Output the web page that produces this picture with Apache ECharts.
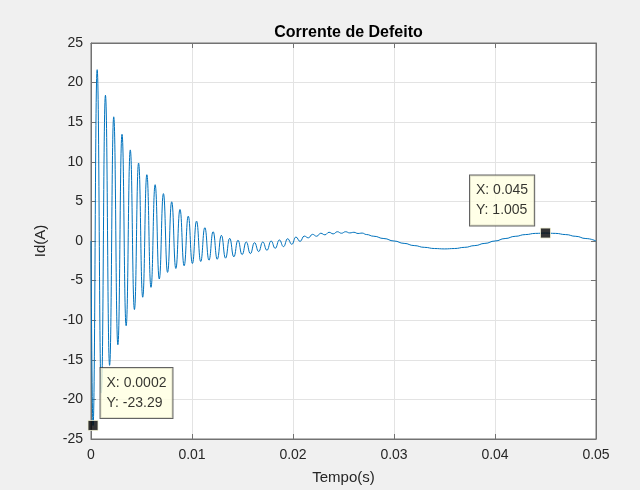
<!DOCTYPE html>
<html>
<head>
<meta charset="utf-8">
<script src="https://cdn.jsdelivr.net/npm/echarts@6/dist/echarts.min.js"></script>
<style>
  html, body { margin: 0; padding: 0; background: #f0f0f0; }
  #chart { width: 640px; height: 490px; }
</style>
</head>
<body>
<div id="chart"></div>
<script>
// Fault current samples: time (s) and current Id (A)
const timeS = [
  0, 0.0002, 0.00061, 0.00102, 0.00143, 0.00184, 0.00225, 0.00266, 0.00307, 0.00348, 0.00389,
  0.0043, 0.00471, 0.00512, 0.00553, 0.00594, 0.00635, 0.00676, 0.00717, 0.00758, 0.00799,
  0.0084, 0.00881, 0.00922, 0.00963, 0.01004, 0.01045, 0.01086, 0.01127, 0.01168, 0.01209,
  0.0125, 0.01291, 0.01332, 0.01373, 0.01414, 0.01455, 0.01496, 0.01537, 0.01578, 0.01619,
  0.0166, 0.01701, 0.01742, 0.01783, 0.01824, 0.01865, 0.01906, 0.01947, 0.01988, 0.02029,
  0.0207, 0.02111, 0.02152, 0.02193, 0.02234, 0.02275, 0.02316, 0.02357, 0.02398, 0.02439,
  0.0248, 0.02521, 0.02562, 0.02603, 0.02644, 0.02685, 0.02726,
  0.028, 0.029, 0.030, 0.031, 0.032, 0.033, 0.034, 0.035, 0.036, 0.037, 0.038, 0.039,
  0.040, 0.041, 0.042, 0.043, 0.044, 0.045, 0.046, 0.047, 0.048, 0.049, 0.050
];
const currentA = [
  0, -23.29, 21.63, -19.2, 18.4, -15.7, 15.68, -13.1, 13.47, -10.7, 11.5,
  -8.66, 9.84, -7.1, 8.37, -5.85, 7.11, -4.8, 5.98, -3.96, 4.95,
  -3.47, 3.98, -3.13, 3.14, -2.84, 2.51, -2.59, 1.68, -2.42, 1.18,
  -2.3, 0.72, -2.17, 0.34, -2.0, 0.1, -1.72, -0.12, -1.59, -0.21,
  -1.33, -0.12, -1.17, 0.0, -0.92, 0.13, -0.71, 0.29, -0.42, 0.5,
  -0.05, 0.62, 0.4, 0.84, 0.6, 0.98, 0.78, 1.1, 0.9, 1.17,
  0.98, 1.17, 1.02, 1.1, 0.95, 1.0, 0.82,
  0.6, 0.31, 0.0, -0.3, -0.58, -0.8, -0.95, -1.0, -0.95, -0.8, -0.58, -0.3,
  0.0, 0.31, 0.59, 0.81, 0.96, 1.005, 0.96, 0.81, 0.59, 0.31, 0.0
];

// Data tips
const tipTimes = [0.0002, 0.045];
const tipValues = [-23.29, 1.005];

// Axis ticks
const xTicks = [0, 0.01, 0.02, 0.03, 0.04, 0.05];
const yTicks = [-25, -20, -15, -10, -5, 0, 5, 10, 15, 20, 25];

const axisColor = '#727272';
const textColor = '#262626';
const fontFamily = '"Liberation Sans", Arial, Helvetica, sans-serif';

const series = timeS.map((t, i) => [t, currentA[i]]);

const tipOffsets = [[13, -52], [-70, -52]];
const tipData = tipTimes.map((t, i) => ({
  value: [t, tipValues[i]],
  label: { position: tipOffsets[i] }
}));

const baseX = {
  type: 'value',
  min: xTicks[0],
  max: xTicks[xTicks.length - 1],
  interval: xTicks[1] - xTicks[0]
};
const baseY = {
  type: 'value',
  min: yTicks[0],
  max: yTicks[yTicks.length - 1],
  interval: yTicks[1] - yTicks[0]
};
const frameLine = { show: true, onZero: false, lineStyle: { color: axisColor } };
const frameTick = { show: true, inside: true, length: 5, lineStyle: { color: axisColor } };

const chart = echarts.init(document.getElementById('chart'), null, { renderer: 'canvas' });
chart.setOption({
  animation: false,
  backgroundColor: '#f0f0f0',
  title: {
    text: 'Corrente de Defeito',
    left: 343.5,
    textAlign: 'center',
    top: 20,
    textStyle: { fontFamily, fontSize: 16, fontWeight: 'bold', color: '#000' }
  },
  grid: {
    left: 91, right: 44, top: 43, bottom: 49,
    show: true, backgroundColor: '#ffffff', borderColor: axisColor, borderWidth: 1
  },
  xAxis: [
    Object.assign({}, baseX, {
      position: 'bottom',
      name: 'Tempo(s)',
      nameLocation: 'middle',
      nameGap: 31,
      nameTextStyle: { fontFamily, fontSize: 15, color: textColor },
      axisLine: frameLine,
      axisTick: frameTick,
      axisLabel: { fontFamily, fontSize: 14, color: textColor, margin: 9 },
      splitLine: { show: true, lineStyle: { color: '#e3e3e3', width: 1 } }
    }),
    Object.assign({}, baseX, {
      position: 'top',
      axisLine: frameLine,
      axisTick: frameTick,
      axisLabel: { show: false },
      splitLine: { show: false }
    })
  ],
  yAxis: [
    Object.assign({}, baseY, {
      position: 'left',
      name: 'Id(A)',
      nameLocation: 'middle',
      nameGap: 43,
      nameTextStyle: { fontFamily, fontSize: 15, color: textColor },
      axisLine: frameLine,
      axisTick: frameTick,
      axisLabel: { fontFamily, fontSize: 14, color: textColor, margin: 8 },
      splitLine: { show: true, lineStyle: { color: '#e3e3e3', width: 1 } }
    }),
    Object.assign({}, baseY, {
      position: 'right',
      axisLine: frameLine,
      axisTick: frameTick,
      axisLabel: { show: false },
      splitLine: { show: false }
    })
  ],
  series: [
    {
      type: 'line',
      data: series,
      xAxisIndex: 0,
      yAxisIndex: 0,
      symbol: 'none',
      smooth: 0.5,
      smoothMonotone: 'x',
      lineStyle: { color: '#0072bd', width: 1 },
      z: 2
    },
    {
      type: 'scatter',
      data: tipData,
      xAxisIndex: 0,
      yAxisIndex: 0,
      symbol: 'rect',
      symbolSize: 10,
      itemStyle: { color: '#000000', borderColor: '#f3f3d6', borderWidth: 1 },
      z: 5,
      label: {
        show: true,
        align: 'left',
        verticalAlign: 'top',
        formatter: p => 'X: ' + p.value[0] + '\nY: ' + p.value[1],
        fontFamily,
        fontSize: 14,
        lineHeight: 20,
        color: '#000',
        backgroundColor: '#ffffe1',
        borderColor: '#3c3c3c',
        borderWidth: 1,
        padding: [5, 6, 5, 6]
      }
    }
  ]
});
</script>
</body>
</html>
